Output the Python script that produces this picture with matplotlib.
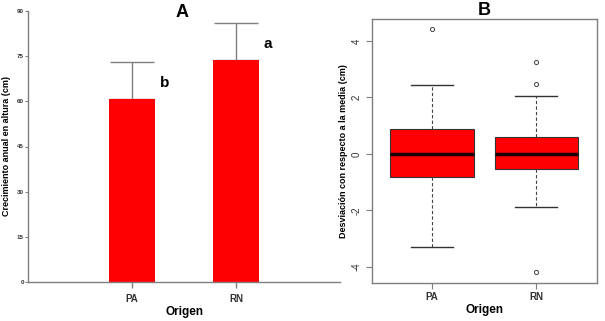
import matplotlib.pyplot as plt
import numpy as np

plt.rcParams['font.family'] = ['Liberation Sans', 'DejaVu Sans']

# Panel A: medias y error
origen = ['PA', 'RN']
crecimiento = [60.8, 73.6]
error_sup = [12.4, 12.4]
letras = ['b', 'a']
yticks_a = [0, 15, 30, 45, 60, 75, 90]

# Panel B: estadisticos de las cajas
q1 = [-0.82, -0.54]
mediana = [0.0, 0.0]
q3 = [0.87, 0.58]
bigote_inf = [-3.30, -1.89]
bigote_sup = [2.44, 2.05]
atipicos = [[4.42], [3.24, 2.47, -4.18]]
yticks_b = [-4, -2, 0, 2, 4]

gris = '#7f7f7f'
rojo = '#ff0000'

fig = plt.figure(figsize=(6.05, 3.21), dpi=100)

# ---- A ----
ax1 = fig.add_axes([28/605, 1-282/321, 312/605, 271/321])
pos = np.arange(1, len(origen)+1)
ax1.bar(pos, crecimiento, width=0.44, color=rojo, edgecolor='none', zorder=2)
ax1.errorbar(pos, crecimiento, yerr=[[0, 0], error_sup], fmt='none',
             ecolor=gris, elinewidth=1, capsize=16, capthick=1, zorder=1)
for x, y, e, l in zip(pos, crecimiento, error_sup, letras):
    ax1.text(x + 0.31, y + e - 7, l, fontsize=11, fontweight='bold', ha='center', va='center')
ax1.set_xlim(0, 3)
ax1.set_ylim(0, 90)
ax1.set_yticks(yticks_a)
ax1.set_yticklabels([str(v) for v in yticks_a], fontsize=4.5, fontweight='bold', color='#333333')
ax1.set_xticks(pos)
ax1.set_xticklabels(origen, fontsize=7, fontweight='bold', color='#333333')
ax1.tick_params(axis='y', length=2, width=0.8, color=gris, pad=1)
ax1.tick_params(axis='x', length=4, width=1, color=gris, pad=5)
for s in ['top', 'right']:
    ax1.spines[s].set_visible(False)
for s in ['left', 'bottom']:
    ax1.spines[s].set_color(gris)
    ax1.spines[s].set_linewidth(1)
ax1.set_ylabel('Crecimiento anual en altura (cm)', fontsize=6.5, fontweight='bold', labelpad=4)
ax1.set_xlabel('Origen', fontsize=8.5, fontweight='bold', labelpad=1)
ax1.text(0.495, 0.996, 'A', transform=ax1.transAxes, fontsize=13, fontweight='bold',
         ha='center', va='center')

# ---- B ----
ax2 = fig.add_axes([371.7/605, 1-282.7/321, 225/605, 263.4/321])
stats = []
for i in range(len(origen)):
    stats.append(dict(med=mediana[i], q1=q1[i], q3=q3[i], whislo=bigote_inf[i],
                      whishi=bigote_sup[i], fliers=atipicos[i], label=origen[i]))
ax2.bxp(stats, positions=pos, widths=0.8, patch_artist=True,
        boxprops=dict(facecolor=rojo, edgecolor='#333333', linewidth=0.8),
        medianprops=dict(color='#1a0000', linewidth=2.5),
        whiskerprops=dict(color='#444444', linestyle=(0, (3, 2)), linewidth=0.8),
        capprops=dict(color='#333333', linewidth=1),
        capwidths=0.4,
        flierprops=dict(marker='o', markersize=3, markerfacecolor='none',
                        markeredgecolor='#444444', markeredgewidth=0.7))
ax2.set_xlim(0.42, 2.58)
ax2.set_ylim(-4.57, 4.77)
ax2.set_yticks(yticks_b)
ax2.set_yticklabels([str(v) for v in yticks_b], fontsize=7, rotation=90, va='center',
                    color='#333333')
ax2.set_xticks(pos)
ax2.set_xticklabels(origen, fontsize=7, fontweight='bold', color='#333333')
ax2.tick_params(axis='y', length=4, width=0.8, color=gris, pad=3)
ax2.tick_params(axis='x', length=4, width=0.8, color=gris, pad=3)
for s in ax2.spines.values():
    s.set_color(gris)
    s.set_linewidth(1)
ax2.set_ylabel('Desviación con respecto a la media (cm)', fontsize=6.5, fontweight='bold', labelpad=3)
ax2.set_xlabel('Origen', fontsize=8.5, fontweight='bold', labelpad=1)
ax2.set_title('B', fontsize=13, fontweight='bold', pad=0)

fig.savefig('out.png', dpi=100)
